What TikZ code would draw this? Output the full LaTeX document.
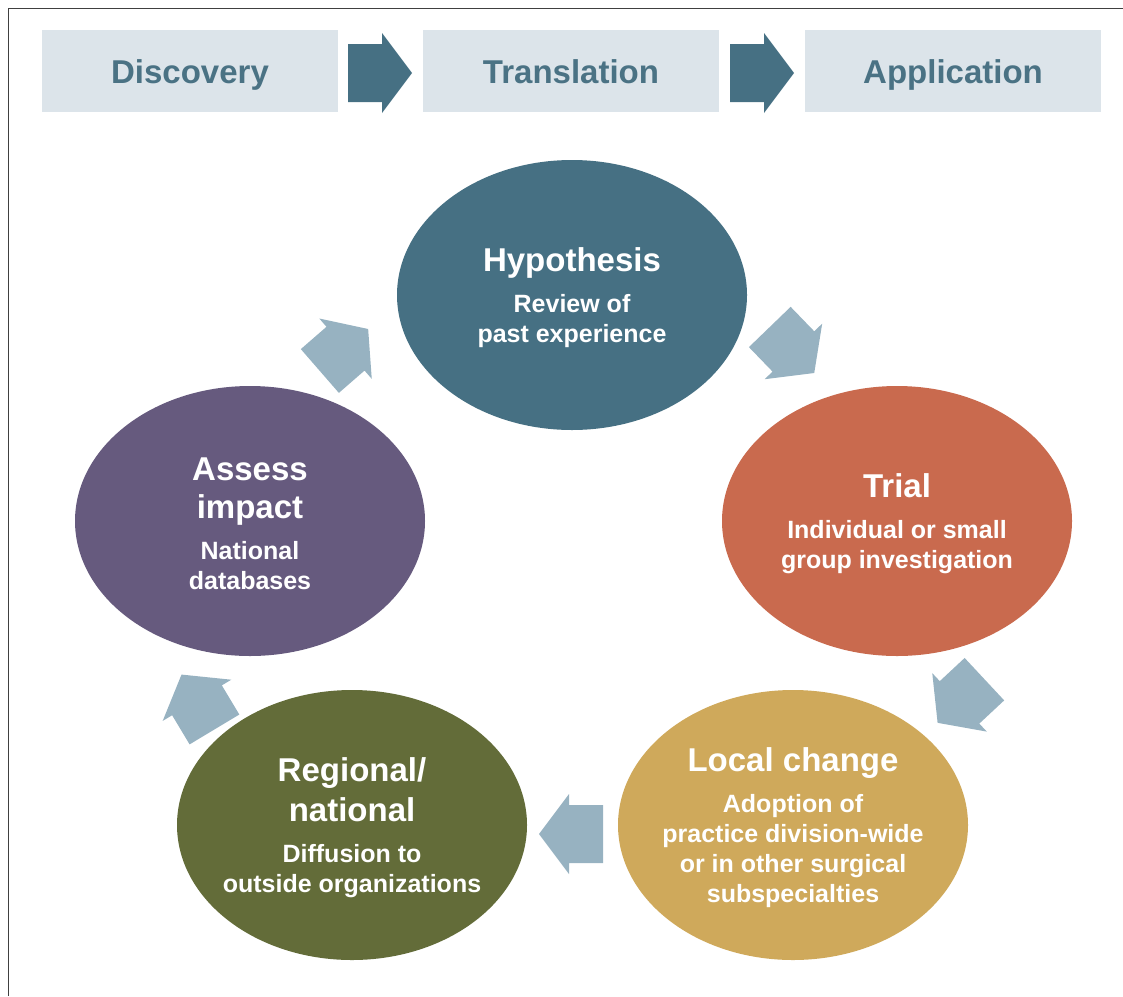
\documentclass[tikz,border=0pt]{standalone}
\usepackage{fontspec}
\setmainfont{Liberation Sans}
\usetikzlibrary{shapes.geometric}
\definecolor{hypblue}{RGB}{70,112,131}
\definecolor{trialred}{RGB}{201,106,78}
\definecolor{localgold}{RGB}{207,169,91}
\definecolor{regolive}{RGB}{99,108,57}
\definecolor{assesspurple}{RGB}{102,90,126}
\definecolor{arrowlight}{RGB}{151,178,193}
\definecolor{phasebg}{RGB}{220,228,234}
\definecolor{phasetext}{RGB}{74,114,132}
\newcommand{\stagetitle}[1]{{\fontsize{33}{38}\selectfont #1}}
\tikzset{
  stage/.style={ellipse, minimum width=350pt, minimum height=270pt, inner sep=0pt},
  stagetext/.style={text=white, align=center, yshift=-3pt, font=\bfseries\fontsize{25}{30}\selectfont},
  phase/.style={fill=phasebg, minimum width=296pt, minimum height=82pt, inner sep=0pt,
    text height=24pt, text depth=0pt, text=phasetext, font=\bfseries\fontsize{33}{38}\selectfont},
  blockarrow/.pic={\path[pic actions] (-32,-29) -- (2,-29) -- (2,-40) -- (32,0) -- (2,40) -- (2,29) -- (-32,29) -- cycle;}
}

\begin{document}
\begin{tikzpicture}[x=1pt,y=-1pt]
        \useasboundingbox (0,0) rectangle (1123,996);
        \draw[black!75,line width=0.8pt] (8,996) -- (8,8) -- (1123,8);
        \node[phase] (disc) at (190,71) {Discovery};
        \node[phase] (trans) at (571,71) {Translation};
        \node[phase] (appl) at (953,71) {Application};
        \pic[fill=hypblue] at (380,73) {blockarrow};
        \pic[fill=hypblue] at (762,73) {blockarrow};
        \node[stage,fill=hypblue] (hyp) at (572,295) {};
        \node[stage,fill=trialred] (trial) at (897,521) {};
        \node[stage,fill=localgold] (local) at (793,825) {};
        \node[stage,fill=regolive] (reg) at (352,825) {};
        \node[stage,fill=assesspurple] (assess) at (250,521) {};
        \node[stagetext] (hyptext) at (hyp) {\stagetitle{Hypothesis}\\[11pt]Review of\\past experience};
        \node[stagetext] (trialtext) at (trial) {\stagetitle{Trial}\\[11pt]Individual or small\\group investigation};
        \node[stagetext] (localtext) at (local) {\stagetitle{Local change}\\[11pt]Adoption of\\practice division-wide\\or in other surgical\\subspecialties};
        \node[stagetext] (regtext) at (reg) {\stagetitle{Regional/}\\[8pt]\stagetitle{national}\\[11pt]Diffusion to\\outside organizations};
        \node[stagetext] (assesstext) at (assess) {\stagetitle{Assess}\\[8pt]\stagetitle{impact}\\[11pt]National\\databases};
        \pic[fill=arrowlight,rotate=41] at (344,350) {blockarrow};
        \pic[fill=arrowlight,rotate=-46] at (792,350) {blockarrow};
        \pic[fill=arrowlight,rotate=-137] at (961,701) {blockarrow};
        \pic[fill=arrowlight,rotate=180] at (571,834) {blockarrow};
        \pic[fill=arrowlight,rotate=121] at (198,702) {blockarrow};
    \end{tikzpicture}
\end{document}
